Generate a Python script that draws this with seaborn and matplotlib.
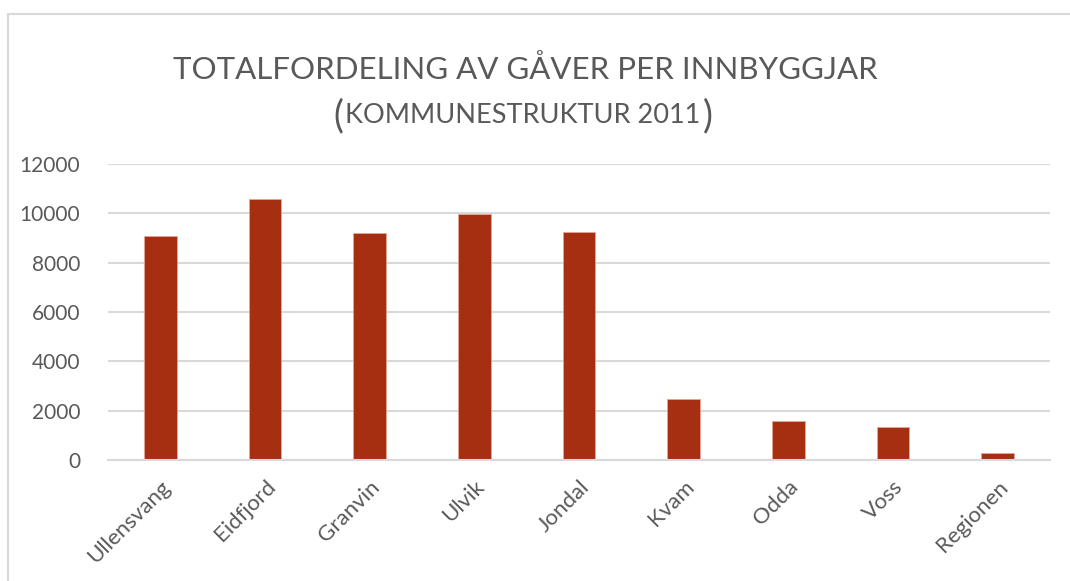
import numpy as np
import pandas as pd
import matplotlib
matplotlib.use("Agg")
import matplotlib.pyplot as plt
from matplotlib.lines import Line2D
import seaborn as sns

# Donnees
kommunar = ["Ullensvang", "Eidfjord", "Granvin", "Ulvik", "Jondal",
            "Kvam", "Odda", "Voss", "Regionen"]
gaver_per_innbyggjar = [9100, 10600, 9200, 9980, 9250, 2480, 1600, 1320, 300]
y_ticks = [0, 2000, 4000, 6000, 8000, 10000, 12000]

BAR = "#A52F10"
GRID = "#D9D9D9"
TXT = "#595959"

sns.set_style("white")
plt.rcParams["font.family"] = ["Lato", "DejaVu Sans"]

df = pd.DataFrame({"kommune": kommunar, "verdi": gaver_per_innbyggjar})

fig = plt.figure(figsize=(10.7, 5.81), dpi=100)
ax = fig.add_axes([108 / 1070, 121 / 581, 942 / 1070, 296 / 581])

sns.barplot(data=df, x="kommune", y="verdi", color=BAR, saturation=1,
            width=0.315, edgecolor="#E3A594", linewidth=0.6, ax=ax)

ax.set_ylim(0, 12000)
ax.set_xlim(-0.5, len(kommunar) - 0.5)
ax.set_yticks(y_ticks)
ax.set_yticklabels([str(t) for t in y_ticks])
ax.yaxis.grid(True, color=GRID, linewidth=1.5)
ax.set_axisbelow(True)
for s in ["top", "right", "left"]:
    ax.spines[s].set_visible(False)
ax.spines["bottom"].set_color(GRID)
ax.spines["bottom"].set_linewidth(1.5)
ax.tick_params(axis="y", length=0, colors=TXT, labelsize=15, pad=20)
ax.tick_params(axis="x", length=0, colors=TXT, labelsize=16, pad=12)
for lab in ax.get_xticklabels():
    lab.set_rotation(45)
    lab.set_ha("right")
    lab.set_rotation_mode("anchor")
ax.set_xlabel("")
ax.set_ylabel("")

# ramme rundt diagrammet
fig.add_artist(Line2D([8 / 1070, 8 / 1070], [0, 1 - 14 / 581],
                      transform=fig.transFigure, color=GRID, linewidth=1.5))
fig.add_artist(Line2D([8 / 1070, 1], [1 - 14 / 581, 1 - 14 / 581],
                      transform=fig.transFigure, color=GRID, linewidth=1.5))

# tittel
fig.text(525 / 1070, 1 - 79 / 581, "TOTALFORDELING AV GÅVER PER INNBYGGJAR",
         ha="center", va="baseline", fontsize=22.5, color=TXT)

sub_y = 1 - 123 / 581
sub = fig.text(523 / 1070, sub_y, "KOMMUNESTRUKTUR 2011",
               ha="center", va="baseline", fontsize=19.5, color=TXT)
r = fig.canvas.get_renderer()
bb = sub.get_window_extent(renderer=r).transformed(fig.transFigure.inverted())
fig.text(bb.x0 - 0.002, sub_y - 4 / 581, "(", ha="right", va="baseline",
         fontsize=27, color=TXT)
fig.text(bb.x1 + 0.002, sub_y - 4 / 581, ")", ha="left", va="baseline",
         fontsize=27, color=TXT)

fig.savefig("out.png", dpi=100)
